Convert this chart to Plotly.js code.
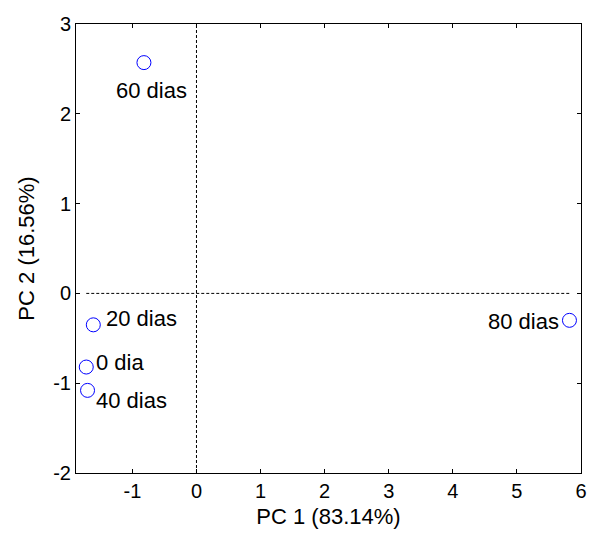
<!DOCTYPE html>
<html>
<head>
<meta charset="utf-8">
<script src="https://cdn.plot.ly/plotly-3.0.1.min.js"></script>
<style>html,body{margin:0;padding:0;background:#fff;}#chart{width:589px;height:534px;}</style>
</head>
<body>
<div id="chart"></div>
<script>
// Data (PCA scores)
const labels = ["0 dia", "20 dias", "40 dias", "60 dias", "80 dias"];
const pc1 = [-1.72, -1.61, -1.70, -0.82, 5.82];
const pc2 = [-0.82, -0.35, -1.08, 2.57, -0.30];
const xTickVals = [-1, 0, 1, 2, 3, 4, 5, 6];
const xTickText = ["-1", "0", "1", "2", "3", "4", "5", "6"];
const yTickVals = [-2, -1, 0, 1, 2, 3];
const yTickText = ["-2", "-1", "0", "1", "2", "3"];

// label placement styles (pixel offsets)
const labelStyle = {
  "0 dia":   {xanchor: "left",   xshift: 8,  yshift: 5},
  "20 dias": {xanchor: "left",   xshift: 11, yshift: 6},
  "40 dias": {xanchor: "left",   xshift: 6,  yshift: -10},
  "60 dias": {xanchor: "center", xshift: 8,  yshift: -28},
  "80 dias": {xanchor: "right",  xshift: -8, yshift: -1}
};

const font = "Liberation Sans, Arial, sans-serif";

const annotations = labels.map((t, i) => Object.assign({
  x: pc1[i], y: pc2[i], xref: "x", yref: "y", text: t, showarrow: false,
  yanchor: "middle", font: {family: font, size: 22, color: "#000"}
}, labelStyle[t]));

const xmin = Math.min(...pc1), xmax = Math.max(...pc1);

const traces = [
  {x: [xmin, xmax], y: [0, 0], mode: "lines", line: {color: "#000", width: 1, dash: "3px,2px"}, hoverinfo: "skip"},
  {x: pc1, y: pc2, mode: "markers", type: "scatter",
   marker: {symbol: "circle-open", size: 14, color: "#0000ff", line: {width: 1, color: "#0000ff"}}}
];

const layout = {
  width: 589, height: 534,
  margin: {l: 76, r: 8, t: 24, b: 61},
  paper_bgcolor: "#fff", plot_bgcolor: "#fff",
  showlegend: false,
  font: {family: font, color: "#000"},
  xaxis: {
    range: [-1.88, 6], tickvals: xTickVals, ticktext: xTickText, ticks: "inside", ticklen: 4, tickcolor: "#000",
    showline: true, linecolor: "#000", linewidth: 1, mirror: "ticks",
    showgrid: false, zeroline: false,
    tickfont: {family: font, size: 20, color: "#000"},
    title: {text: "PC 1 (83.14%)", font: {family: font, size: 22, color: "#000"}, standoff: 7}
  },
  yaxis: {
    range: [-2, 3], tickvals: yTickVals, ticktext: yTickText, ticks: "inside", ticklen: 4, tickcolor: "#000",
    showline: true, linecolor: "#000", linewidth: 1, mirror: "ticks",
    showgrid: false, zeroline: false,
    tickfont: {family: font, size: 20, color: "#000"},
    title: {text: "PC 2 (16.56%)", font: {family: font, size: 22, color: "#000"}, standoff: 12}
  },
  shapes: [
    {type: "line", xref: "x", yref: "paper", x0: 0, x1: 0, y0: 0, y1: 1, line: {color: "#000", width: 1, dash: "3px,2px"}}
  ],
  annotations: annotations
};

Plotly.newPlot("chart", traces, layout, {staticPlot: true, displayModeBar: false});
</script>
</body>
</html>
